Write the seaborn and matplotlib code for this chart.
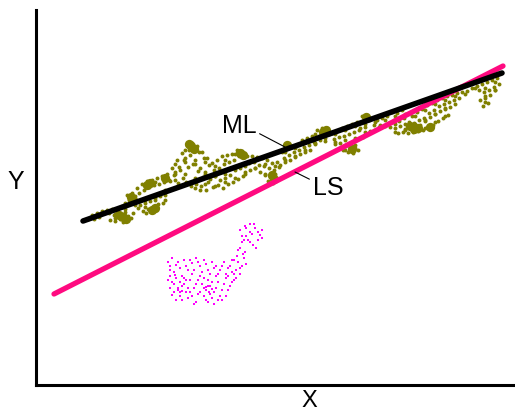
import matplotlib
matplotlib.use("Agg")
import matplotlib.pyplot as plt
import seaborn as sns

# Lines (two end points each)
ml_x = [83, 502]
ml_y = [179, 327]
ls_x = [54, 503]
ls_y = [106, 334]

# Olive point band
olive_x = [88, 92, 94, 97, 99, 102, 100, 107, 109,
           112, 114, 110, 117, 119, 115, 122, 124, 120, 123,
           127, 129, 125, 128, 126, 132, 134, 130, 133, 131,
           137, 139, 135, 138, 142, 144, 140, 143,
           147, 149, 145, 148, 146, 152, 154, 150, 153, 151,
           157, 159, 155, 158, 156, 162, 164, 160, 163,
           167, 169, 165, 172, 174, 170, 177, 179, 175, 178,
           182, 184, 180, 183, 187, 189, 185, 188, 186,
           192, 194, 190, 193, 191, 197, 199, 195, 198, 196, 200,
           202, 204, 200, 203, 201, 207, 209, 205, 208, 206,
           212, 214, 210, 213, 217, 219, 215, 218,
           222, 224, 220, 223, 227, 229, 225, 228,
           232, 234, 230, 233, 237, 239, 235, 238,
           242, 244, 240, 243, 247, 249, 245, 252, 254, 250,
           257, 259, 255, 262, 264, 260, 267, 269, 265, 268,
           272, 274, 270, 273, 277, 279, 275, 282, 284, 280,
           287, 289, 285, 292, 294, 290, 297, 299, 295,
           302, 304, 300, 307, 309, 305, 312, 314, 310,
           317, 319, 315, 322, 324, 320, 327, 329, 325, 332, 334,
           337, 339, 335, 342, 344, 340, 343, 347, 349, 345, 348,
           352, 354, 350, 353, 357, 359, 355, 358,
           362, 364, 360, 363, 367, 369, 365, 372, 374, 370,
           377, 379, 382, 380, 387, 389, 392, 394, 390,
           397, 399, 395, 398, 402, 404, 400, 403,
           407, 409, 405, 408, 412, 414, 410, 413,
           417, 419, 415, 418, 422, 424, 420, 423,
           427, 429, 425, 428, 432, 434, 430, 433,
           437, 439, 435, 438, 442, 444, 440, 443,
           447, 449, 445, 448, 452, 454, 450, 457, 459,
           462, 467, 472, 477, 479,
           482, 484, 480, 483, 487, 489, 485, 488,
           492, 494, 490, 497, 499, 495]
olive_y = [181, 185, 181, 187, 183, 189, 186, 190, 187,
           191, 185, 180, 188, 183, 179, 194, 186, 181, 178,
           205, 200, 191, 184, 180, 207, 202, 197, 187, 182,
           212, 207, 199, 192, 216, 210, 195, 189,
           219, 213, 197, 191, 187, 220, 215, 199, 193, 188,
           222, 216, 202, 196, 190, 224, 218, 204, 197,
           226, 220, 205, 232, 225, 219, 240, 233, 226, 217,
           247, 240, 230, 222, 255, 250, 242, 233, 218,
           257, 252, 245, 236, 214, 254, 248, 240, 229, 216, 210,
           248, 242, 232, 223, 214, 242, 235, 226, 218, 210,
           237, 230, 221, 213, 240, 232, 224, 215,
           244, 236, 220, 212, 245, 238, 222, 216,
           246, 240, 225, 218, 250, 244, 230, 221,
           249, 243, 232, 224, 244, 237, 228, 244, 238, 230,
           243, 235, 232, 242, 234, 228, 240, 232, 225, 219,
           237, 230, 223, 217, 238, 233, 226, 248, 242, 235,
           252, 245, 238, 254, 248, 240, 255, 250, 243,
           260, 253, 246, 262, 255, 248, 264, 258, 250,
           270, 264, 257, 272, 267, 260, 272, 266, 259, 267, 261,
           269, 263, 256, 272, 264, 257, 250, 274, 266, 254, 248,
           276, 268, 253, 247, 278, 270, 255, 250,
           284, 279, 272, 263, 285, 280, 273, 282, 275, 269,
           280, 273, 282, 275, 284, 277, 288, 280, 273,
           287, 279, 272, 267, 290, 282, 274, 268,
           286, 278, 271, 267, 284, 277, 272, 268,
           288, 280, 274, 269, 291, 282, 275, 270,
           295, 287, 279, 272, 297, 290, 283, 275,
           300, 294, 286, 279, 302, 296, 289, 282,
           304, 298, 291, 285, 305, 300, 293, 307, 302,
           308, 309, 312, 314, 310,
           316, 308, 300, 294, 318, 310, 302, 297,
           320, 313, 305, 322, 316, 310]

# More olive dots between the columns above
olive2_x = [95, 105, 115, 115, 125, 125, 135, 135, 145, 145, 145,
            155, 155, 155, 165, 165, 165, 175, 175, 175, 185, 185, 185,
            195, 195, 195, 195, 205, 205, 205, 215, 215, 215,
            225, 225, 225, 235, 235, 235, 245, 245, 245, 255, 255,
            265, 265, 275, 275, 285, 285, 295, 295, 305, 305, 315, 315,
            325, 325, 335, 335, 345, 345, 345, 355, 355, 355,
            365, 365, 365, 375, 375, 385, 385, 395, 395, 395,
            405, 405, 405, 415, 415, 415, 425, 425, 425,
            435, 435, 435, 445, 445, 445, 455, 455, 465, 475,
            485, 485, 485, 495, 495]
olive2_y = [184, 188, 182, 186, 188, 197, 204, 195, 214, 200, 193,
            218, 200, 192, 222, 210, 200, 236, 228, 220, 250, 238, 226,
            250, 236, 222, 212, 238, 228, 216, 234, 224, 214,
            240, 226, 218, 246, 232, 222, 246, 234, 226, 240, 232,
            236, 226, 234, 222, 248, 240, 252, 244, 258, 250, 266, 256,
            270, 262, 266, 258, 270, 260, 250, 274, 262, 252,
            282, 276, 268, 278, 270, 280, 274, 284, 276, 268,
            286, 276, 270, 284, 276, 270, 290, 280, 272,
            296, 286, 278, 300, 292, 284, 304, 296, 306, 312,
            312, 304, 298, 318, 310]

# Denser olive clumps
clump_x = [123, 126, 119, 131, 133, 152, 155, 150, 147, 165, 191, 194, 189,
           240, 243, 272, 274, 287, 323, 326, 366, 352, 410, 414, 430, 418]
clump_y = [183, 181, 185, 203, 200, 190, 192, 217, 215, 222, 254, 251, 256,
           247, 245, 225, 221, 255, 268, 270, 283, 251, 274, 271, 273, 272]

# Magenta point cloud
pink_x = [168, 172, 176, 170, 175, 168, 180, 184, 188, 192, 196, 200, 204, 208,
          212, 216, 220, 224, 228, 232,
          170, 174, 178, 182, 186, 180, 176, 190, 194, 198, 202, 206, 210, 214,
          212, 208, 218, 222, 226, 230, 234, 188, 196, 184, 172, 200, 204, 216,
          226, 180, 192, 208, 222, 214, 178, 182, 212, 209, 206,
          238, 242, 236, 240, 244, 246, 232, 237, 243,
          240, 245, 250, 255, 260, 248, 242, 253, 258, 262, 250, 246, 256, 240,
          170, 174, 178, 182, 186, 190, 194, 198, 202, 206, 210, 214, 218,
          222, 226, 230, 234, 172, 176, 180, 184, 188, 192, 196, 200, 204,
          208, 212, 216, 220, 224, 228, 232, 186, 198, 206, 218, 174, 170,
          190, 204, 210, 182, 194, 228, 236, 240, 234, 245, 238, 244, 252,
          258, 250, 262, 246, 254, 242]
pink_y = [138, 142, 135, 130, 125, 120, 132, 140, 130, 137, 142, 134, 140, 130,
          138, 134, 130, 138, 132, 128,
          112, 116, 110, 114, 108, 104, 100, 120, 112, 106, 116, 110, 114, 108,
          102, 98, 118, 110, 104, 114, 120, 102, 98, 122, 105, 124, 122, 124,
          122, 118, 126, 120, 100, 96, 112, 109, 111, 108, 113,
          138, 134, 130, 126, 142, 136, 140, 144, 146,
          170, 174, 168, 172, 165, 160, 158, 155, 160, 170, 176, 164, 152, 152,
          134, 128, 138, 124, 134, 140, 130, 138, 128, 136, 126, 132, 126,
          134, 126, 134, 126, 118, 122, 108, 116, 112, 104, 116, 108, 104,
          114, 118, 112, 104, 116, 110, 118, 120, 120, 100, 100, 108, 124,
          108, 112, 106, 100, 96, 124, 122, 132, 140, 148, 150, 160, 166,
          168, 158, 162, 172, 176, 164]

olive = "#808000"
pink_line = "#ff0a80"
pink_dots = "#ff00ff"

sns.set_style("white")
plt.rcParams["font.family"] = ["Liberation Sans", "DejaVu Sans"]
plt.rcParams["text.color"] = "black"
plt.rcParams["axes.labelcolor"] = "black"

fig = plt.figure(figsize=(5.15, 4.15), dpi=100)
ax = fig.add_axes([36 / 515, 30 / 415, 478 / 515, 375 / 415])

sns.scatterplot(x=olive_x, y=olive_y, color=olive, s=8, marker="o",
                linewidth=0, ax=ax)
sns.scatterplot(x=olive2_x, y=olive2_y, color=olive, s=8, marker="o",
                linewidth=0, ax=ax)
sns.scatterplot(x=clump_x, y=clump_y, color=olive, s=45, marker="o",
                linewidth=0, ax=ax)
sns.scatterplot(x=pink_x, y=pink_y, color=pink_dots, s=3, marker="s",
                linewidth=0, ax=ax)

sns.lineplot(x=ls_x, y=ls_y, color=pink_line, linewidth=3.8, ax=ax)
sns.lineplot(x=ml_x, y=ml_y, color="black", linewidth=4,
             solid_capstyle="round", ax=ax)

ax.annotate("ML", xy=(285, 253), xytext=(239, 274), fontsize=18,
            ha="center", va="center",
            arrowprops=dict(arrowstyle="-", color="black", lw=0.8,
                            relpos=(1.0, 0.25), shrinkA=0, shrinkB=0))
ax.annotate("LS", xy=(295, 228), xytext=(328, 212), fontsize=18,
            ha="center", va="center",
            arrowprops=dict(arrowstyle="-", color="black", lw=0.8,
                            relpos=(0.0, 0.8), shrinkA=0, shrinkB=0))

ax.set_xlim(36, 514)
ax.set_ylim(15, 390)
ax.set_xticks([])
ax.set_yticks([])
ax.set_xlabel("X", fontsize=17, va="center", ha="center")
ax.set_ylabel("Y", fontsize=18, rotation=0, va="center", ha="center")
ax.xaxis.set_label_coords(0.571, -0.043)
ax.yaxis.set_label_coords(-0.042, 0.541)

for side in ["top", "right"]:
    ax.spines[side].set_visible(False)
for side in ["left", "bottom"]:
    ax.spines[side].set_color("black")
    ax.spines[side].set_linewidth(2.2)

fig.savefig("out.png", dpi=100)
